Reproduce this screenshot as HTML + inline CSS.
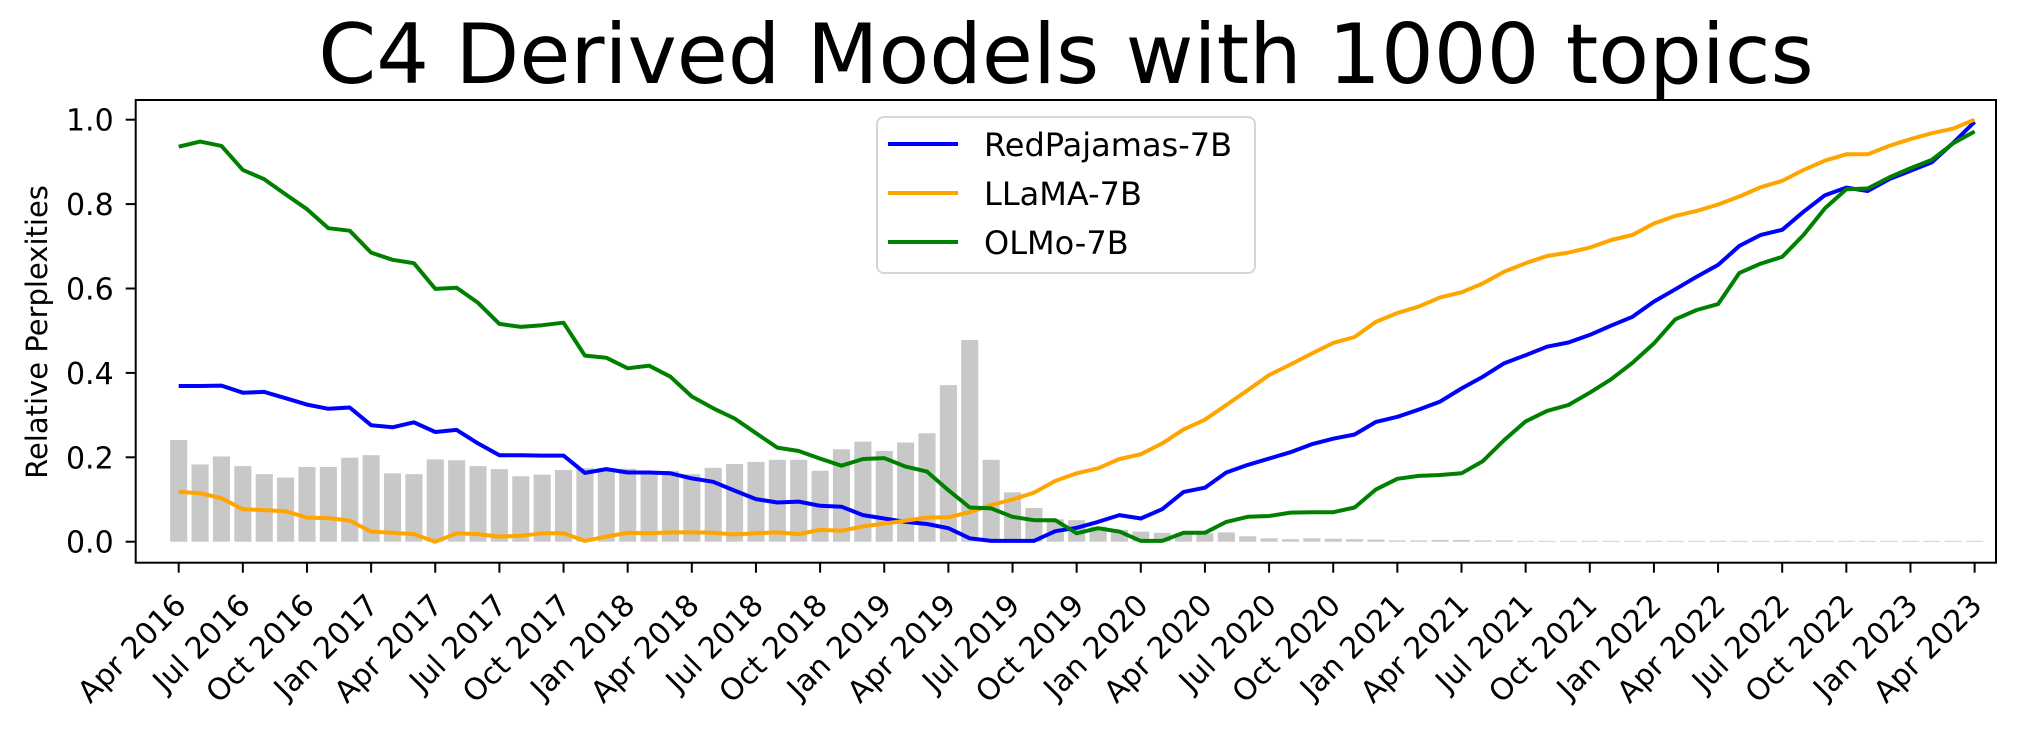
<!DOCTYPE html>
<html><head><meta charset="utf-8"><style>
html,body{margin:0;padding:0;background:#fff;}
svg{display:block;font-family:"DejaVu Sans","Liberation Sans",sans-serif;}
</style></head><body>
<svg id="chart" width="2018" height="734" viewBox="0 0 2018 734">
<text x="1066" y="83" font-size="83" text-anchor="middle">C4 Derived Models with 1000 topics</text>
<text transform="translate(47,332) rotate(-90)" font-size="29" text-anchor="middle">Relative Perplexities</text>
<g id="bars"></g>
<g id="lines"></g>
<g id="axes"></g>
<g id="legend"></g>
</svg>
<script>
const tickLabels = ["Apr 2016","Jul 2016","Oct 2016","Jan 2017","Apr 2017","Jul 2017","Oct 2017","Jan 2018","Apr 2018","Jul 2018","Oct 2018","Jan 2019","Apr 2019","Jul 2019","Oct 2019","Jan 2020","Apr 2020","Jul 2020","Oct 2020","Jan 2021","Apr 2021","Jul 2021","Oct 2021","Jan 2022","Apr 2022","Jul 2022","Oct 2022","Jan 2023","Apr 2023"];
const yTicks = [0.0,0.2,0.4,0.6,0.8,1.0];
const redPajamas = [.369,.369,.370,.353,.355,.340,.325,.315,.318,.276,.271,.283,.260,.265,.233,.205,.205,.204,.204,.163,.172,.164,.164,.162,.150,.142,.121,.101,.093,.095,.085,.083,.063,.055,.047,.042,.032,.008,.002,.002,.002,.025,.033,.047,.063,.055,.077,.118,.128,.164,.182,.197,.212,.231,.244,.254,.284,.296,.313,.332,.363,.391,.423,.442,.462,.472,.490,.512,.533,.569,.598,.628,.656,.701,.727,.739,.782,.821,.839,.831,.859,.879,.899,.945,.995];
const llama = [.118,.115,.103,.077,.075,.072,.057,.056,.050,.024,.021,.018,.000,.020,.018,.012,.014,.020,.020,.002,.012,.021,.020,.022,.022,.021,.017,.020,.022,.018,.028,.026,.036,.043,.050,.057,.058,.070,.087,.100,.116,.144,.162,.174,.196,.207,.233,.266,.289,.324,.359,.395,.420,.446,.471,.485,.521,.542,.557,.579,.591,.612,.640,.660,.677,.685,.697,.715,.727,.754,.772,.784,.799,.818,.840,.855,.881,.903,.918,.918,.938,.954,.968,.979,1.0];
const olmo = [.936,.948,.938,.881,.859,.823,.788,.743,.737,.685,.668,.660,.599,.602,.566,.516,.509,.513,.519,.441,.436,.411,.417,.391,.344,.316,.292,.257,.223,.215,.197,.180,.196,.198,.178,.166,.122,.081,.079,.059,.051,.051,.020,.032,.024,.002,.002,.021,.021,.047,.059,.061,.069,.070,.070,.081,.124,.149,.156,.158,.162,.191,.241,.285,.310,.324,.353,.385,.424,.470,.527,.549,.563,.637,.659,.675,.727,.790,.835,.837,.863,.885,.905,.944,.972];
const topicShare = [.241,.183,.202,.179,.160,.152,.177,.177,.199,.205,.162,.160,.195,.193,.179,.172,.155,.159,.170,.174,.174,.173,.162,.168,.160,.175,.184,.189,.194,.194,.168,.219,.237,.215,.235,.257,.371,.478,.194,.117,.080,.053,.051,.036,.028,.024,.021,.020,.020,.022,.013,.008,.006,.008,.007,.006,.005,.003,.003,.004,.004,.003,.003,.002,.002,.002,.002,.002,.002,.002,.002,.002,.002,.002,.002,.002,.002,.002,.002,.002,.002,.002,.002,.002,.002];
const seriesNames = ["RedPajamas-7B","LLaMA-7B","OLMo-7B"];
const seriesColors = ["#0000ff","#ffa500","#008000"];

const NS = "http://www.w3.org/2000/svg";
const AX = {l:135.7, r:1996, t:100, b:562.7};
const X0 = 178.7, DX = 21.38, Y0 = 541.7, YS = 422;
function xs(i){ return X0 + i*DX; }
function ys(v){ return Y0 - v*YS; }
function mk(tag, attrs, parent){
  const e = document.createElementNS(NS, tag);
  for (const k in attrs) e.setAttribute(k, attrs[k]);
  parent.appendChild(e); return e;
}
const gb = document.getElementById('bars');
topicShare.forEach((v,i)=>{
  const r = mk('rect',{x:xs(i)-0.4*DX, y:ys(v), width:0.8*DX, height:Math.max(0.5,ys(0)-ys(v)), fill:'#c8c8c8'}, gb);
  
  
});
const gl = document.getElementById('lines');
[redPajamas, llama, olmo].forEach((s,k)=>{
  const p = mk('polyline',{points:s.map((v,i)=>xs(i).toFixed(1)+','+ys(v).toFixed(1)).join(' '), fill:'none', stroke:seriesColors[k], 'stroke-width':4, 'stroke-linejoin':'round'}, gl);
  
  
});
const ga = document.getElementById('axes');
const frame = mk('rect',{x:AX.l, y:AX.t, width:AX.r-AX.l, height:AX.b-AX.t, fill:'none', stroke:'#000', 'stroke-width':2}, ga);


yTicks.forEach(v=>{
  const y = ys(v);
  mk('line',{x1:AX.l-10, x2:AX.l, y1:y, y2:y, stroke:'#000','stroke-width':2}, ga);
  const t = mk('text',{x:AX.l-22, y:y+11, 'font-size':30, 'text-anchor':'end'}, ga);
  t.textContent = v.toFixed(1);
  
  
});
tickLabels.forEach((lab,j)=>{
  const x = xs(j*3);
  mk('line',{x1:x, x2:x, y1:AX.b, y2:AX.b+10, stroke:'#000','stroke-width':2}, ga);
  const t = mk('text',{x:0, y:0, 'font-size':30, 'text-anchor':'end', transform:'translate('+(x+9)+',607) rotate(-45)'}, ga);
  t.textContent = lab;
  
  
});
const lg = document.getElementById('legend');
const box = mk('rect',{x:877, y:117, width:378, height:156, rx:7, fill:'#fff', 'fill-opacity':0.8, stroke:'#d6d6d6', 'stroke-width':2}, lg);


seriesNames.forEach((n,k)=>{
  const y = 144 + k*49;
  const h = mk('line',{x1:888, x2:958, y1:y, y2:y, stroke:seriesColors[k], 'stroke-width':4}, lg);
  
  
  const t = mk('text',{x:984, y:y+12, 'font-size':32}, lg);
  t.textContent = n;
  
  
});
</script>
</body></html>
